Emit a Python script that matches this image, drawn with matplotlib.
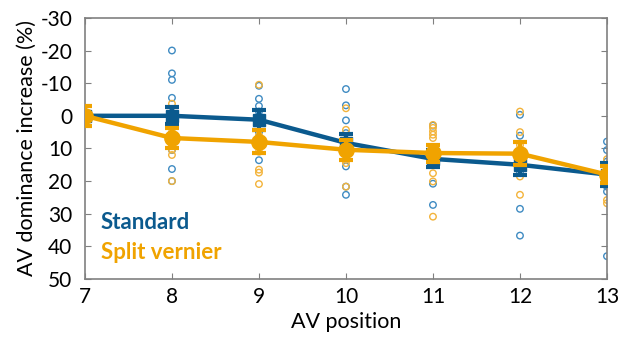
import matplotlib
matplotlib.use("Agg")
import matplotlib.pyplot as plt

plt.rcParams['font.family'] = ['Lato', 'DejaVu Sans']
plt.rcParams['axes.unicode_minus'] = False

positions = [7, 8, 9, 10, 11, 12, 13]

std_mean = [0, 0, 1.2, 8.3, 13.2, 15.0, 18.0]
std_err = [0, 2.6, 3.0, 2.6, 2.6, 3.0, 3.5]
split_mean = [0, 6.8, 8.0, 10.4, 11.4, 11.6, 18.0]
split_err = [3.0, 3.0, 3.5, 3.0, 2.6, 3.5, 2.6]

std_points = {
    7: [0, 0, 0],
    8: [-20, -13, -11, -5.5, -1, 0, 1, 2.5, 10.5, 16.3, 20],
    9: [-9.2, -5.2, -3, -1.3, 0, 2, 5, 13.6],
    10: [-8.2, -3.2, 1.4, 5.3, 8, 10, 12, 15.5, 21.7, 24.2],
    11: [3, 10, 13, 15, 20.8, 27.3],
    12: [-0.3, 6.1, 12, 15, 17.5, 28.5, 36.7],
    13: [7.9, 10.5, 14, 18, 21.7, 23.2, 43],
}
split_points = {
    7: [0, 0, 0],
    8: [-3.7, 0, 2.8, 5, 7, 9, 10.4, 12, 20],
    9: [-9.5, 0.5, 6, 8, 11, 16.5, 17.4, 20.9],
    10: [-2.3, 4.3, 9, 11, 13.5, 14.5, 21.7],
    11: [2.8, 3.7, 4.8, 5.8, 6.8, 11, 14, 17.6, 20.1, 30.9],
    12: [-1.3, 5, 9, 12, 14, 18.6, 24.2],
    13: [13.3, 16, 18, 20, 25.8, 26.8],
}

blue = '#0B5A8E'
blue_light = '#3F8BC2'
orange = '#F0A300'
orange_light = '#F3B33A'

fig = plt.figure(figsize=(6.2, 3.37), dpi=100)
ax = fig.add_axes([0.137, 0.172, 0.842, 0.775])

for x, vals in std_points.items():
    ax.scatter([x] * len(vals), vals, s=22, facecolors='none',
               edgecolors=blue_light, linewidths=1.0, zorder=2)
for x, vals in split_points.items():
    ax.scatter([x] * len(vals), vals, s=22, facecolors='none',
               edgecolors=orange_light, linewidths=1.0, zorder=2)

ax.errorbar(positions, std_mean, yerr=std_err, color=blue, lw=3.2,
            marker='s', ms=9, capsize=5, capthick=3, elinewidth=3,
            zorder=3)
ax.errorbar(positions, split_mean, yerr=split_err, color=orange, lw=3.2,
            marker='o', ms=11, capsize=5, capthick=3, elinewidth=3,
            zorder=4)

ax.set_xlim(7, 13)
ax.set_ylim(50, -30)
ax.set_xticks(positions)
ax.set_yticks(range(-30, 51, 10))

ax.tick_params(direction='in', top=True, right=True, length=4,
               color='#808080', labelsize=15, labelcolor='black')
ax.tick_params(axis='x', pad=6)
ax.tick_params(axis='y', pad=9)
for sp in ax.spines.values():
    sp.set_color('#808080')
    sp.set_linewidth(1.2)

ax.set_xlabel('AV position', fontsize=15.5, labelpad=3)
ax.set_ylabel('AV dominance increase (%)', fontsize=15.5, labelpad=3)

ax.text(0.03, 0.218, 'Standard', transform=ax.transAxes, color=blue,
        fontsize=16, fontweight='bold', va='center')
ax.text(0.03, 0.103, 'Split vernier', transform=ax.transAxes, color=orange,
        fontsize=16, fontweight='bold', va='center')

fig.savefig('out.png', dpi=100)
